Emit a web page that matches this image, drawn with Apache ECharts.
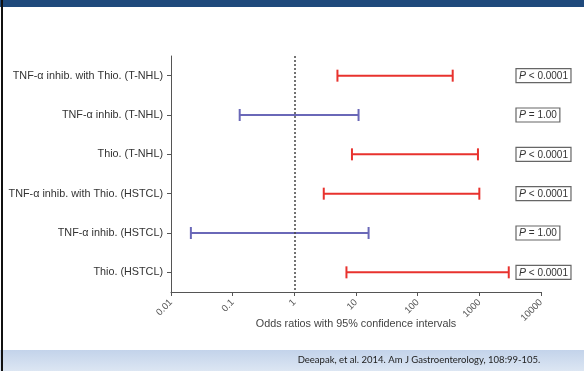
<!DOCTYPE html>
<html>
<head>
<meta charset="utf-8">
<script src="https://cdn.jsdelivr.net/npm/echarts@6/dist/echarts.min.js"></script>
<style>
  html, body { margin: 0; padding: 0; background: #fff; }
  #chart { width: 584px; height: 371px; }
</style>
</head>
<body>
<div id="chart"></div>
<script>
// ---- Data ----
const categories = [
  'TNF-\u03b1 inhib. with Thio. (T-NHL)',
  'TNF-\u03b1 inhib. (T-NHL)',
  'Thio. (T-NHL)',
  'TNF-\u03b1 inhib. with Thio. (HSTCL)',
  'TNF-\u03b1 inhib. (HSTCL)',
  'Thio. (HSTCL)'
];
const lowerCI = [5.0, 0.13, 8.6, 3.0, 0.021, 7.0];
const upperCI = [370, 11, 950, 1000, 16, 3000];
const pLabels = ['P < 0.0001', 'P = 1.00', 'P < 0.0001', 'P < 0.0001', 'P = 1.00', 'P < 0.0001'];
const xTicks = [0.01, 0.1, 1, 10, 100, 1000, 10000];
const xTitle = 'Odds ratios with 95% confidence intervals';
const caption = 'Deeapak, et al. 2014. Am J Gastroenterology, 108:99-105.';
const refLine = 1;

const chart = echarts.init(document.getElementById('chart'), null, { renderer: 'canvas' });

const ciData = categories.map((c, i) => [i, lowerCI[i], upperCI[i], pLabels[i].indexOf('<') >= 0 ? 1 : 0]);

function renderCI(params, api) {
  const idx = api.value(0);
  const lo = api.coord([api.value(1), idx]);
  const hi = api.coord([api.value(2), idx]);
  const color = api.value(3) ? '#E8322E' : '#6A68B8';
  const cap = 6;
  const style = { stroke: color, lineWidth: 2, fill: null };
  return {
    type: 'group',
    children: [
      { type: 'line', shape: { x1: lo[0], y1: lo[1], x2: hi[0], y2: hi[1] }, style },
      { type: 'line', shape: { x1: lo[0], y1: lo[1] - cap, x2: lo[0], y2: lo[1] + cap }, style },
      { type: 'line', shape: { x1: hi[0], y1: hi[1] - cap, x2: hi[0], y2: hi[1] + cap }, style }
    ]
  };
}

const option = {
  animation: false,
  backgroundColor: '#ffffff',
  grid: { left: 171, right: 43, top: 56, bottom: 79, containLabel: false },
  xAxis: {
    type: 'log',
    logBase: 10,
    min: xTicks[0],
    max: xTicks[xTicks.length - 1],
    splitNumber: xTicks.length - 1,
    name: xTitle,
    nameLocation: 'middle',
    nameGap: 27,
    nameMoveOverlap: false,
    nameTextStyle: { fontFamily: 'Liberation Sans', fontSize: 10.8, color: '#444' },
    axisLine: { show: true, lineStyle: { color: '#555', width: 1 } },
    axisTick: { show: true, length: 4, lineStyle: { color: '#555', width: 1 } },
    splitLine: { show: false },
    minorTick: { show: false },
    axisLabel: {
      rotate: 45,
      margin: 9,
      fontFamily: 'Liberation Sans',
      fontSize: 9.5,
      color: '#555',
      formatter: v => String(Number(Number(v).toPrecision(1)))
    }
  },
  yAxis: [
    {
      type: 'category',
      data: categories,
      inverse: true,
      axisLine: { show: true, lineStyle: { color: '#555', width: 1 } },
      axisTick: { show: true, alignWithLabel: true, length: 4, lineStyle: { color: '#555', width: 1 } },
      axisLabel: { margin: 8, fontFamily: 'Liberation Sans', fontSize: 10.8, color: '#333' },
      splitLine: { show: false }
    },
    {
      type: 'category',
      data: pLabels,
      inverse: true,
      position: 'right',
      axisLine: { show: false },
      axisTick: { show: false },
      splitLine: { show: false },
      axisLabel: {
        margin: -25,
        align: 'left',
        fontFamily: 'Liberation Sans',
        fontSize: 10,
        color: '#333',
        borderColor: '#666',
        borderWidth: 1.2,
        padding: [2, 3, 1, 3],
        formatter: v => '{i|P}' + v.slice(1),
        rich: {
          i: { fontStyle: 'italic', fontFamily: 'Liberation Sans', fontSize: 10.5, color: '#333' }
        }
      }
    }
  ],
  series: [
    {
      type: 'custom',
      renderItem: renderCI,
      encode: { x: [1, 2], y: 0 },
      data: ciData,
      markLine: {
        silent: true,
        symbol: 'none',
        label: { show: false },
        lineStyle: { color: '#444', type: [2, 2], width: 1.5 },
        data: [{ xAxis: refLine }]
      }
    }
  ],
  graphic: [
    { type: 'rect', left: 0, top: 0, shape: { width: 584, height: 7 }, style: { fill: '#1F4A7C' }, silent: true },
    {
      type: 'rect', left: 0, top: 350, shape: { width: 584, height: 21 },
      style: {
        fill: new echarts.graphic.LinearGradient(0, 0, 0, 1, [
          { offset: 0, color: '#C3D3EA' },
          { offset: 1, color: '#DCE6F3' }
        ])
      },
      silent: true
    },
    { type: 'rect', left: 1, top: 0, shape: { width: 2, height: 371 }, style: { fill: '#111' }, silent: true },
    {
      type: 'text', x: 419, y: 360,
      style: {
        text: caption, fill: '#222', font: '9.5px Lato',
        align: 'center', verticalAlign: 'middle'
      },
      silent: true
    }
  ]
};

chart.setOption(option);
</script>
</body>
</html>
